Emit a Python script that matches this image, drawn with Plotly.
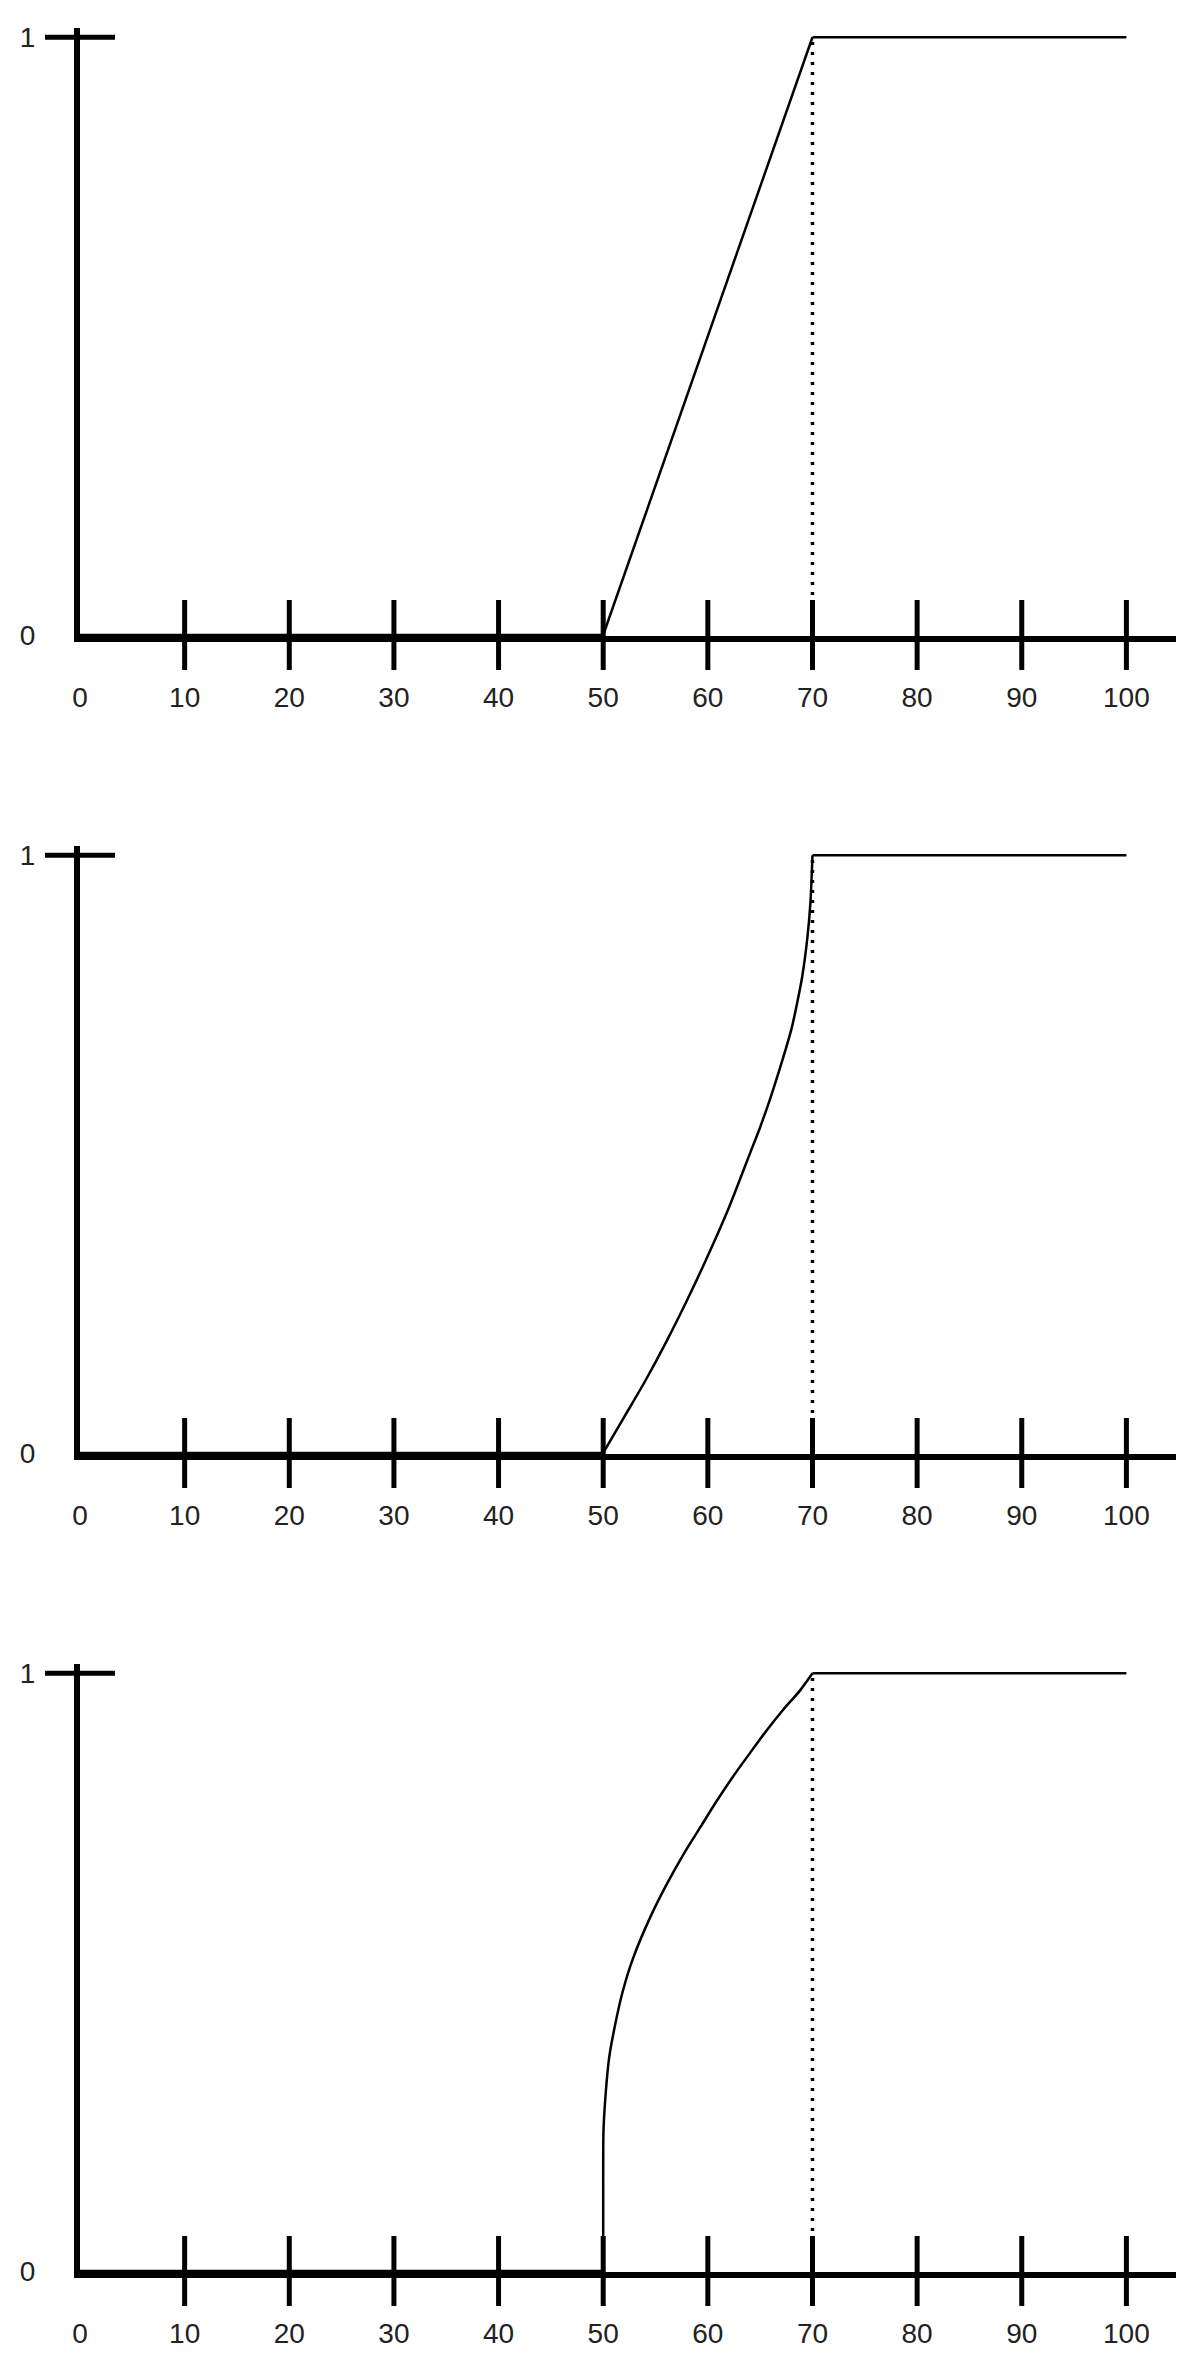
import plotly.graph_objects as go

# tick marks that cross the x axis, and the x tick labels
x_ticks = [10, 20, 30, 40, 50, 60, 70, 80, 90, 100]
x_label_vals = [0, 10, 20, 30, 40, 50, 60, 70, 80, 90, 100]
x_label_text = ["0", "10", "20", "30", "40", "50", "60", "70", "80", "90", "100"]
y_label_vals = [0, 1]
y_label_text = ["0", "1"]

# flat parts shared by every panel
low_x = [0, 50]
low_y = [0, 0]
high_x = [70, 100]
high_y = [1, 1]

# panel 1: straight ramp
lin_x = [50, 70]
lin_y = [0, 1]

# panel 2: slow start, steep finish
convex_x = [50, 52, 54, 56, 58, 60, 62, 64, 65, 66, 67, 68, 68.5, 69, 69.5, 69.8, 70]
convex_y = [0, 0.06, 0.12, 0.185, 0.255, 0.33, 0.41, 0.50, 0.545, 0.595, 0.65, 0.71,
            0.75, 0.795, 0.86, 0.92, 1.0]

# panel 3: steep start, slow finish
concave_x = [50, 50, 50.03, 50.26, 50.57, 51.14, 51.87, 52.85, 54.5, 56.1, 57.7, 59.3,
             60.8, 62.4, 64.0, 65.6, 67.2, 68.8, 70]
concave_y = [0, 0.15, 0.236, 0.302, 0.357, 0.412, 0.468, 0.523, 0.592, 0.648, 0.698, 0.743,
             0.785, 0.827, 0.866, 0.904, 0.939, 0.971, 1.0]

# dotted guide at the end of the ramp
cutoff_x = [70, 70]
cutoff_y = [0, 1]

panels = [(lin_x, lin_y, "linear"), (convex_x, convex_y, "spline"),
          (concave_x, concave_y, "spline")]
domains = [[0.72906, 1.0], [0.36453, 0.63547], [0.0, 0.27094]]

font = dict(family="Liberation Sans, Arial, sans-serif", size=28, color="#222")
curve = dict(color="black", width=2.5)

fig = go.Figure()
layout = {}
for i, (cx, cy, shape) in enumerate(panels, 1):
    xa = "x" if i == 1 else "x%d" % i
    ya = "y" if i == 1 else "y%d" % i
    fig.add_trace(go.Scatter(x=cutoff_x, y=cutoff_y, mode="lines",
                             line=dict(color="black", width=3.5, dash="3px,7px"),
                             xaxis=xa, yaxis=ya, hoverinfo="skip"))
    fig.add_trace(go.Scatter(x=low_x, y=low_y, mode="lines", line=curve,
                             xaxis=xa, yaxis=ya))
    fig.add_trace(go.Scatter(x=high_x, y=high_y, mode="lines", line=curve,
                             xaxis=xa, yaxis=ya))
    fig.add_trace(go.Scatter(x=cx, y=cy, mode="lines", line_shape=shape,
                             line=dict(curve, smoothing=0.7),
                             xaxis=xa, yaxis=ya))
    fig.add_trace(go.Scatter(x=x_ticks, y=[0] * len(x_ticks), mode="markers",
                             marker=dict(symbol="line-ns", size=50, color="black",
                                         line=dict(color="black", width=5)),
                             cliponaxis=False, xaxis=xa, yaxis=ya, hoverinfo="skip"))
    fig.add_trace(go.Scatter(x=[0], y=[1], mode="markers",
                             marker=dict(symbol="line-ew", size=50, color="black",
                                         line=dict(color="black", width=5)),
                             cliponaxis=False, xaxis=xa, yaxis=ya, hoverinfo="skip"))

    layout["xaxis" if i == 1 else "xaxis%d" % i] = dict(
        domain=[0, 1], range=[0, 104.74], anchor=ya,
        showline=True, linewidth=6, linecolor="black",
        tickvals=x_label_vals, ticktext=x_label_text, ticks="",
        ticklabelstandoff=31, tickfont=font,
        showgrid=False, zeroline=False, fixedrange=True)
    layout["yaxis" if i == 1 else "yaxis%d" % i] = dict(
        domain=domains[i - 1], range=[-0.0017, 1.0155], anchor=xa,
        showline=True, linewidth=6, linecolor="black",
        tickvals=y_label_vals, ticktext=y_label_text, ticks="",
        ticklabelstandoff=33, tickfont=font,
        showgrid=False, zeroline=False, fixedrange=True)

fig.update_layout(**layout)
fig.update_layout(
    width=1197, height=2363,
    margin=dict(l=64, r=29, t=20, b=99),
    plot_bgcolor="white", paper_bgcolor="white",
    showlegend=False,
)

fig.write_html("out.html")
